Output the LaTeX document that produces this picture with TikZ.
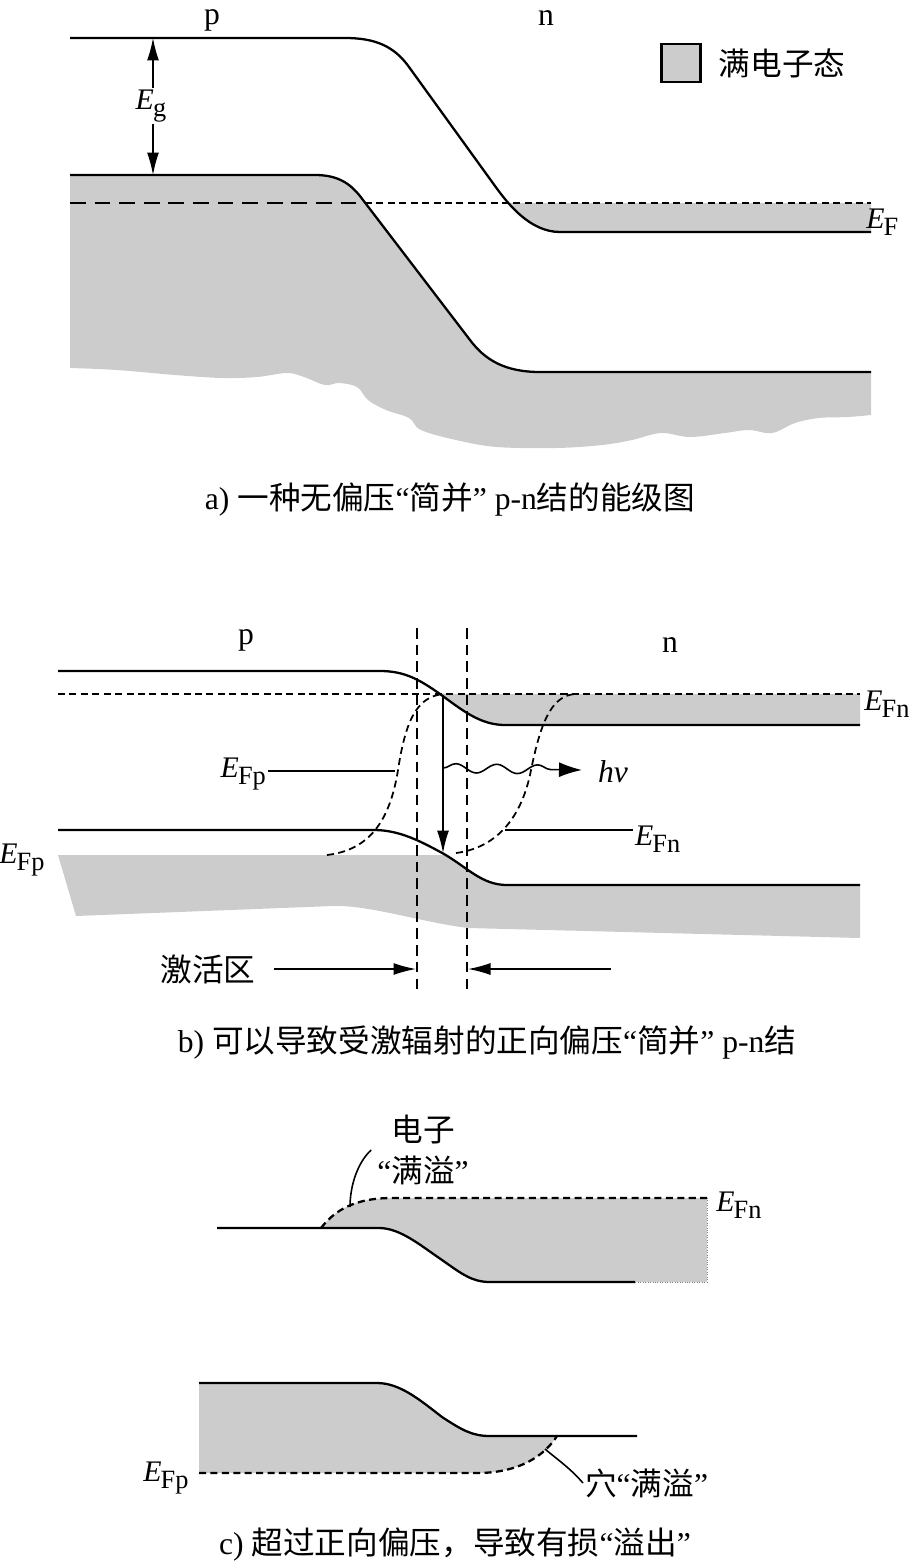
\documentclass[tikz,border=0pt]{standalone}
\usepackage{fontspec}
\setmainfont{Liberation Serif}
\newfontfamily\cjk{Noto Sans CJK SC}
\usetikzlibrary{arrows.meta,decorations.pathmorphing}
\definecolor{fillgray}{gray}{0.8}
\newcommand{\enlev}[1]{\textit{E}\kern-0.5pt\raisebox{-0.5ex}{\fontsize{15}{15}\selectfont #1}}

\begin{document}
\begin{tikzpicture}[x=0.02cm, y=-0.02cm, font=\fontsize{18}{21}\selectfont,
  band/.style={line width=1.3pt},
  qfermi/.style={line width=1pt, dash pattern=on 4pt off 2.5pt},
  junc/.style={line width=0.8pt, dash pattern=on 6pt off 3.5pt},
  arr/.style={-{Latex[length=0.45cm,width=0.24cm]}, line width=0.8pt}]
\useasboundingbox (0,0) rectangle (917,1565);

% a) no bias
\fill[fillgray] (70,175) -- (315,175) .. controls (340,175) and (352,185) .. (363,200) -- (470,340) .. controls (485,360) and (505,372) .. (540,372) -- (871,372) -- plot[smooth, tension=0.6] coordinates {(871,415) (848,417) (819,418) (795,423) (772,433) (749,430) (725,433) (690,437) (661,433) (632,440) (602,445) (556,448) (497,447) (456,440) (421,430) (409,418) (386,410) (368,400) (357,387) (339,383) (325,385) (304,377) (287,373) (257,377) (222,378) (175,375) (117,370) (70,368)} -- cycle;
\begin{scope}
  \clip (480,203) rectangle (871,240);
  \fill[fillgray] (495,186) .. controls (508,204) and (530,232) .. (560,232) -- (871,232) -- (871,180) -- cycle;
\end{scope}
\draw[band] (70,38) -- (345,38) .. controls (375,38) and (394,46) .. (409,67) -- (495,186) .. controls (508,204) and (530,232) .. (560,232) -- (871,232);
\draw[band] (70,175) -- (315,175) .. controls (340,175) and (352,185) .. (363,200) -- (470,340) .. controls (485,360) and (505,372) .. (540,372) -- (871,372);
\draw[line width=1pt, dash pattern=on 9pt off 5pt] (70,203) -- (365,203);
\draw[qfermi] (365,203) -- (871,203);
\node (pA) at (212,20) {p};
\node (nA) at (546,18) {n};
\coordinate (cbA) at (153,38);
\coordinate (vbA) at (153,175);
\node[inner sep=1pt, font=\fontsize{17}{20}\selectfont] (egA) at (151,106) {\enlev{g}};
\draw[arr] (cbA |- egA.north) -- (cbA);
\draw[arr] (vbA |- egA.south) -- (vbA);
\node[anchor=west, inner sep=0pt, font=\fontsize{17}{20}\selectfont] (efA) at (866,222) {\enlev{F}};
\node[draw, fill=fillgray, line width=1.3pt, minimum width=0.78cm, minimum height=0.76cm, inner sep=0pt] (key) at (681,63) {};
\node (keytext) at (782,63) {\cjk 满电子态};
\node (capA) at (450,500) {a) {\cjk 一种无偏压}“{\cjk 简并}” p-n{\cjk 结的能级图}};

% b) forward bias
\fill[fillgray] (440,694) .. controls (462,710) and (480,725) .. (505,725) -- (860,725) -- (860,694) -- cycle;
\fill[fillgray] (58,855) -- (444,855) .. controls (468,868) and (482,885) .. (507,885) -- (860,885) -- (860,938) -- (468,928) .. controls (420,922) and (370,905) .. (333,906) -- (76,916) -- cycle;
\draw[band] (58,671) -- (380,671) .. controls (405,671) and (420,680) .. (440,694) .. controls (462,710) and (480,725) .. (505,725) -- (860,725);
\draw[band] (58,830) -- (374,830) .. controls (400,830) and (422,842) .. (444,854) .. controls (468,868) and (482,885) .. (507,885) -- (860,885);
\draw[qfermi] (58,694) -- (860,694);
\draw[junc] (417,628) -- (417,992);
\draw[junc] (467,628) -- (467,992);
\draw[qfermi] (327,855) .. controls (370,850) and (390,820) .. (398,770) .. controls (405,725) and (415,696) .. (444,694);
\draw[qfermi] (456,853) .. controls (495,848) and (520,820) .. (530,775) .. controls (540,725) and (550,696) .. (575,694);
\node (pB) at (246,640) {p};
\node (nB) at (670,645) {n};
\coordinate (cbB) at (443,695);
\coordinate (vbB) at (443,853);
\draw[arr] (cbB) -- (vbB);
\coordinate (wstart) at (443,768);
\coordinate (wend) at (582,770);
\node[anchor=west, inner sep=1pt] (hv) at (596,772) {\textit{hv}};
\draw[-{Latex[length=0.46cm,width=0.3cm]}, line width=0.9pt, decorate, decoration={snake, amplitude=0.09cm, segment length=0.82cm, post length=0.5cm}] (wstart) -- (wend);
\coordinate (fpB) at (395,771);
\node[anchor=east, inner sep=1pt, font=\fontsize{17}{20}\selectfont] (efpB) at (268,774) {\enlev{Fp}};
\draw[line width=1pt] (efpB.east |- fpB) -- (fpB);
\coordinate (fnB) at (505,830);
\node[anchor=west, inner sep=1pt, font=\fontsize{17}{20}\selectfont] (efnB) at (633,839) {\enlev{Fn}};
\draw[line width=1pt] (fnB) -- (efnB.west |- fnB);
\node[anchor=west, inner sep=0pt, font=\fontsize{17}{20}\selectfont] (efnT) at (864,704) {\enlev{Fn}};
\node[anchor=west, inner sep=0pt, font=\fontsize{17}{20}\selectfont] (efpL) at (-1,860) {\enlev{Fp}};
\node (act) at (208,969) {\cjk 激活区};
\coordinate (actL) at (416,969);
\coordinate (actR) at (468,969);
\coordinate (actE) at (611,969);
\draw[arr] ([xshift=7pt]act.east) -- (actL);
\draw[arr] (actE) -- (actR);
\node (capB) at (487,1043) {b) {\cjk 可以导致受激辐射的正向偏压}“{\cjk 简并}” p-n{\cjk 结}};

% c) excess bias
\fill[fillgray] (321,1228) .. controls (335,1210) and (355,1198) .. (392,1198) -- (707,1198) -- (707,1282) -- (490,1282) .. controls (472,1282) and (462,1274) .. (442,1260) .. controls (420,1245) and (400,1228) .. (379,1228) -- cycle;
\draw[band] (217,1228) -- (379,1228) .. controls (400,1228) and (420,1245) .. (442,1260) .. controls (462,1274) and (472,1282) .. (490,1282) -- (635,1282);
\draw[qfermi, line width=1.3pt] (321,1228) .. controls (335,1210) and (355,1198) .. (392,1198) -- (707,1198);
\draw[densely dotted, gray, thin] (707,1198) -- (707,1282) -- (635,1282);
\fill[fillgray] (199,1383) -- (377,1383) .. controls (400,1383) and (420,1400) .. (442,1417) .. controls (462,1430) and (472,1436) .. (490,1436) -- (557,1436) .. controls (545,1455) and (520,1473) .. (477,1473) -- (199,1473) -- cycle;
\draw[band] (199,1383) -- (377,1383) .. controls (400,1383) and (420,1400) .. (442,1417) .. controls (462,1430) and (472,1436) .. (490,1436) -- (637,1436);
\draw[qfermi, line width=1.3pt] (199,1473) -- (477,1473) .. controls (520,1473) and (545,1455) .. (557,1436);
\node[align=center, font=\fontsize{18}{23}\selectfont] (elec) at (423,1150) {{\cjk 电子}\\“{\cjk 满溢}”};
\coordinate (eo) at (350,1207);
\draw[line width=0.9pt] (elec.west) .. controls (358,1162) and (350,1185) .. (eo);
\node[anchor=west, inner sep=0pt, font=\fontsize{17}{20}\selectfont] (efnC) at (716,1205) {\enlev{Fn}};
\node[anchor=west, inner sep=0pt, font=\fontsize{17}{20}\selectfont] (efpC) at (143,1478) {\enlev{Fp}};
\node[anchor=west, inner sep=1pt] (hole) at (583,1483) {{\cjk 穴}“{\cjk 满溢}”};
\coordinate (ho) at (545,1449);
\draw[line width=0.9pt] (ho) .. controls (558,1460) and (570,1468) .. (hole.west);
\node (capC) at (455,1545) {c) {\cjk 超过正向偏压，导致有损}“{\cjk 溢出}”};
\end{tikzpicture}
\end{document}
